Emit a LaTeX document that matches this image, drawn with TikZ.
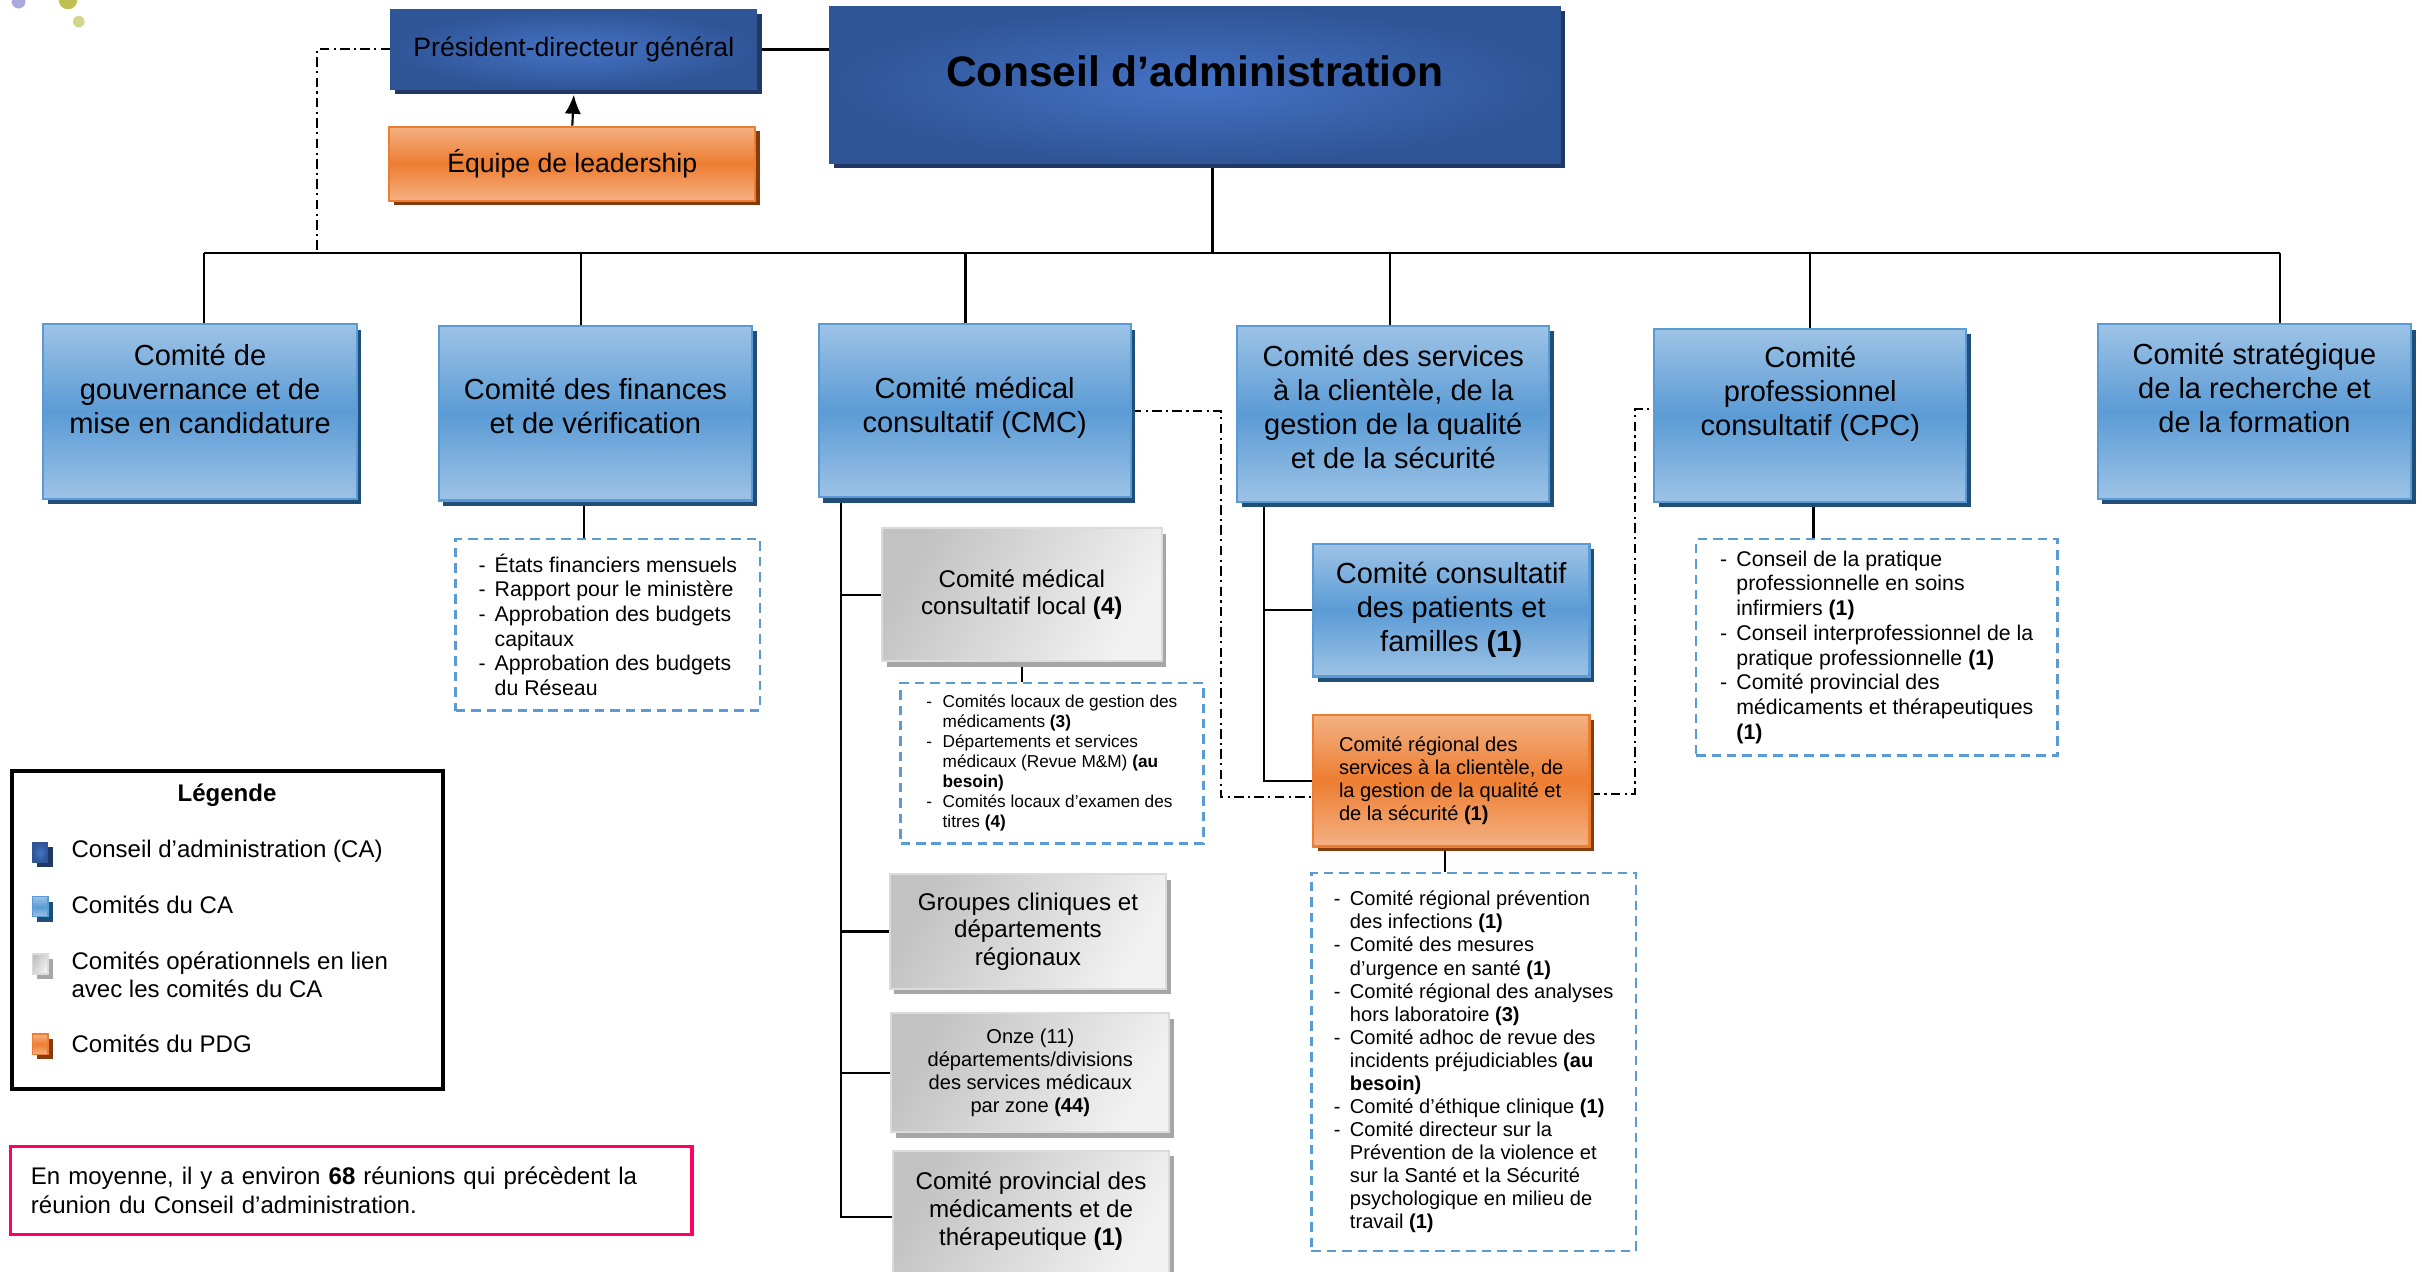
\documentclass[tikz,border=0pt]{standalone}
\usepackage{fontspec}
\setmainfont{Liberation Sans}
\usepackage{tikz}
\usetikzlibrary{arrows.meta,shadows}
\pgfdeclarelayer{bg}
\pgfsetlayers{bg,main}

\definecolor{caD}{HTML}{2F5597}
\definecolor{caM}{HTML}{4472C4}
\definecolor{caS}{HTML}{1F3864}
\definecolor{cmL}{HTML}{9DC3E6}
\definecolor{cmM}{HTML}{5B9BD5}
\definecolor{cmS}{HTML}{1F4E79}
\definecolor{orL}{HTML}{F4B183}
\definecolor{orM}{HTML}{ED7D31}
\definecolor{orS}{HTML}{843C0C}
\definecolor{opL}{HTML}{F2F2F2}
\definecolor{opD}{HTML}{C2C2C2}
\definecolor{opS}{HTML}{A6A6A6}
\definecolor{noteRed}{HTML}{FF0066}
\definecolor{dotP}{HTML}{ABAADB}
\definecolor{dotO}{HTML}{BFBF52}
\definecolor{dotL}{HTML}{D3D58C}

\newcommand{\pxu}{0.02cm}
\newcommand{\fsCA}{\fontsize{15.7}{18}\selectfont\bfseries}
\newcommand{\fsPdg}{\fontsize{9.8}{11.5}\selectfont}
\newcommand{\fsCm}{\fontsize{10.7}{12.5}\selectfont}
\newcommand{\fsOp}{\fontsize{8.9}{10.2}\selectfont}
\newcommand{\fsSm}{\fontsize{7.4}{8.5}\selectfont}
\newcommand{\fsList}{\fontsize{7.84}{9.1}\selectfont}
\newcommand{\fsTiny}{\fontsize{6.35}{7.4}\selectfont}
\newcommand{\fsLeg}{\fontsize{8.85}{10.6}\selectfont}
\newcommand{\tiret}{\makebox[0.21cm][l]{-}}
\newcommand{\suite}{\hspace*{0.21cm}}

\begin{document}
\begin{tikzpicture}[x=0.02cm, y=-0.02cm,
    every node/.style={inner sep=0pt, align=center},
    wh/.style 2 args={minimum width=#1*\pxu, minimum height=#2*\pxu},
    cabox/.style={draw=caD, line width=0.4pt, inner color=caM, outer color=caD,
        drop shadow={shadow xshift=0.06cm, shadow yshift=-0.06cm, fill=caS, opacity=1}},
    comite/.style={draw=cmM, line width=0.8pt, top color=cmL, bottom color=cmL, middle color=cmM,
        drop shadow={shadow xshift=0.06cm, shadow yshift=-0.07cm, fill=cmS, opacity=1}, font=\fsCm},
    pdgbox/.style={draw=orM, line width=0.8pt, top color=orL, bottom color=orL, middle color=orM,
        drop shadow={shadow xshift=0.06cm, shadow yshift=-0.06cm, fill=orS, opacity=1}},
    opbox/.style={draw=opL!80!gray, line width=0.8pt, left color=opD, right color=opL, shading angle=60,
        drop shadow={shadow xshift=0.06cm, shadow yshift=-0.07cm, fill=opS, opacity=1}, font=\fsOp},
    liste/.style={draw=cmM, line width=0.9pt, dash pattern=on 3.5pt off 2.2pt, align=left},
    lien/.style={line width=0.8pt},
    pointille/.style={line width=0.7pt, dash pattern=on 3.5pt off 1.6pt on 0.8pt off 1.6pt}]

    \useasboundingbox (0,0) rectangle (1568,823);
    \clip (0,0) rectangle (1568,823);

    %% decorative dots, top left
    \fill[dotP] (12,1) circle (0.09cm);
    \fill[dotO] (44,0) circle (0.12cm);
    \fill[dotL] (51,14) circle (0.075cm);

    %% Top level
    \node[cabox, wh={473}{102}, font=\fsCA, text depth=10pt] (ca) at (773.5,55) {Conseil d’administration};
    \node[cabox, wh={237}{52}, font=\fsPdg] (pdg) at (371.5,32) {Président-directeur général};
    \node[pdgbox, wh={237}{48}, font=\fsPdg] (lead) at (370.5,106) {Équipe de leadership};
    \coordinate (bus) at (785,164);
    \coordinate (bus-pdg) at (205,164);

    %% Comites du CA
    \node[comite, wh={203}{113}, text depth=0.6cm] (gouv) at (129.5,266.5) {Comité de\\gouvernance et de\\mise en candidature};
    \node[comite, wh={203}{113}, text depth=0.2cm] (fin) at (385.5,267.5) {Comité des finances\\et de vérification};
    \node[comite, wh={202}{112}, text depth=0.16cm] (cmc) at (631,266) {Comité médical\\consultatif (CMC)};
    \node[comite, wh={202}{114}, text depth=0.18cm] (serv) at (902,268) {Comité des services\\à la clientèle, de la\\gestion de la qualité\\et de la sécurité};
    \node[comite, wh={202}{112}, text depth=0.64cm] (cpc) at (1172,269) {Comité\\professionnel\\consultatif (CPC)};
    \node[comite, wh={203}{113}, text depth=0.62cm] (strat) at (1459.5,266.5) {Comité stratégique\\de la recherche et\\de la formation};

    % finances
    \node[liste, wh={197}{111}, font=\fsList] (finlist) at (393.5,404.5)
        {\tiret États financiers mensuels\\\tiret Rapport pour le ministère\\\tiret Approbation des budgets\\\suite capitaux\\\tiret Approbation des budgets\\\suite du Réseau};

    % CMC
    \node[opbox, wh={181}{86}] (local) at (661.5,385) {Comité médical\\consultatif local \textbf{(4)}};
    \node[liste, wh={196}{104}, font=\fsTiny] (loclist) at (681,494)
        {\tiret Comités locaux de gestion des\\\suite médicaments \textbf{(3)}\\\tiret Départements et services\\\suite médicaux (Revue M\&M) \textbf{(au}\\\suite \textbf{besoin)}\\\tiret Comités locaux d’examen des\\\suite titres \textbf{(4)}};
    \node[opbox, wh={179}{74}] (grp) at (665.5,603) {Groupes cliniques et\\départements\\régionaux};
    \node[opbox, wh={180}{77}, font=\fsSm] (onze) at (667,694.5) {Onze (11)\\départements/divisions\\des services médicaux\\par zone \textbf{(44)}};
    \node[opbox, wh={179}{86}, text depth=0.22cm] (prov) at (667.5,788) {Comité provincial des\\médicaments et de\\thérapeutique \textbf{(1)}};

    % services a la clientele
    \node[comite, wh={179}{86}] (pat) at (939.5,395) {Comité consultatif\\des patients et\\familles \textbf{(1)}};
    \node[pdgbox, wh={179}{85}, font=\fsSm, align=left] (reg) at (939.5,505.5)
        {Comité régional des\\services à la clientèle, de\\la gestion de la qualité et\\de la sécurité \textbf{(1)}};
    \node[liste, wh={210}{245}, font=\fsSm] (reglist) at (954,687.5)
        {\tiret Comité régional prévention\\\suite des infections \textbf{(1)}\\\tiret Comité des mesures\\\suite d’urgence en santé \textbf{(1)}\\\tiret Comité régional des analyses\\\suite hors laboratoire \textbf{(3)}\\\tiret Comité adhoc de revue des\\\suite incidents préjudiciables \textbf{(au}\\\suite \textbf{besoin)}\\\tiret Comité d’éthique clinique \textbf{(1)}\\\tiret Comité directeur sur la\\\suite Prévention de la violence et\\\suite sur la Santé et la Sécurité\\\suite psychologique en milieu de\\\suite travail \textbf{(1)}};

    % CPC
    \node[liste, wh={234}{140}, font=\fsList] (cpclist) at (1215,419)
        {\tiret Conseil de la pratique\\\suite professionnelle en soins\\\suite infirmiers \textbf{(1)}\\\tiret Conseil interprofessionnel de la\\\suite pratique professionnelle \textbf{(1)}\\\tiret Comité provincial des\\\suite médicaments et thérapeutiques\\\suite \textbf{(1)}};

    %% Legende
    \node[draw, line width=1.5pt, wh={279}{206}] (leg) at (147.5,602) {};
    \node[font=\fsLeg\bfseries] (leg-t) at (147,515) {Légende};
    \node[cabox, wh={10}{13}] (ic-ca) at (26,552) {};
    \node[comite, line width=0.5pt, wh={10}{13}] (ic-cm) at (26,587) {};
    \node[opbox, line width=0.5pt, wh={10}{13}] (ic-op) at (26,624) {};
    \node[pdgbox, line width=0.5pt, wh={10}{13}] (ic-or) at (26,676) {};
    \node[anchor=west, font=\fsLeg] (lg-ca) at (46,551) {Conseil d’administration (CA)};
    \node[anchor=west, font=\fsLeg] (lg-cm) at (46,586) {Comités du CA};
    \node[anchor=west, font=\fsLeg, align=left] (lg-op) at (46,631) {Comités opérationnels en lien\\avec les comités du CA};
    \node[anchor=west, font=\fsLeg] (lg-or) at (46,676) {Comités du PDG};

    \node[draw=noteRed, line width=1.2pt, wh={441}{57}, font=\fsLeg, align=left, text width=8.3cm] (note) at (227.5,770.5)
        {En moyenne, il y a environ \textbf{68} réunions qui précèdent la\\réunion du Conseil d’administration.};

    \draw[lien, -{Latex[length=7pt,width=6pt]}] (lead.north) -- ([yshift=-0.06cm]pdg.south);

    %% Links
    \begin{pgfonlayer}{bg}
        \draw[line width=1.3pt] (pdg.east) -- (pdg.east -| ca.west);
        \draw[pointille] (pdg.west) -| (bus-pdg);
        \draw[lien] ([xshift=11.5*\pxu]ca.south) -- ([xshift=11.5*\pxu]ca.south |- bus);
        \draw[lien] ([xshift=2.5*\pxu]gouv.north |- bus) -- ([xshift=16.5*\pxu]strat.north |- bus);
        \foreach \n/\d in {gouv/2.5, fin/-9.5, cmc/-6, serv/-2, cpc/0, strat/16.5}
            \draw[lien] ([xshift=\d*\pxu]\n.north) -- ([xshift=\d*\pxu]\n.north |- bus);

        \draw[lien] ([xshift=-7.5*\pxu]fin.south) -- ([xshift=-7.5*\pxu]fin.south |- finlist.north);

        % CMC branches
        \coordinate (cmc-t) at ([xshift=15*\pxu]cmc.south west);
        \draw[lien] (cmc-t) |- (prov.west);
        \foreach \n in {local, grp, onze}
            \draw[lien] (\n.west) -- (\n.west -| cmc-t);
        \draw[lien] (local.south) -- (local.south |- loclist.north);

        % services branches
        \coordinate (serv-t) at ([xshift=18*\pxu]serv.south west);
        \draw[lien] (serv-t) |- (reg.west);
        \draw[lien] (pat.west) -- (pat.west -| serv-t);
        \draw[lien] ([xshift=-4*\pxu]reg.south) -- ([xshift=-4*\pxu]reg.south |- reglist.north);

        \draw[lien] ([xshift=2*\pxu]cpc.south) -- ([xshift=2*\pxu]cpc.south |- cpclist.north);

        % liens fonctionnels
        \draw[pointille] (cmc.east) -| ([xshift=-59*\pxu, yshift=-10.5*\pxu]reg.west) -- ([yshift=-10.5*\pxu]reg.west);
        \draw[pointille] ([yshift=-8.5*\pxu]reg.east) -| ([xshift=-12*\pxu, yshift=4*\pxu]cpc.west) -- ([yshift=4*\pxu]cpc.west);
    \end{pgfonlayer}
\end{tikzpicture}
\end{document}
